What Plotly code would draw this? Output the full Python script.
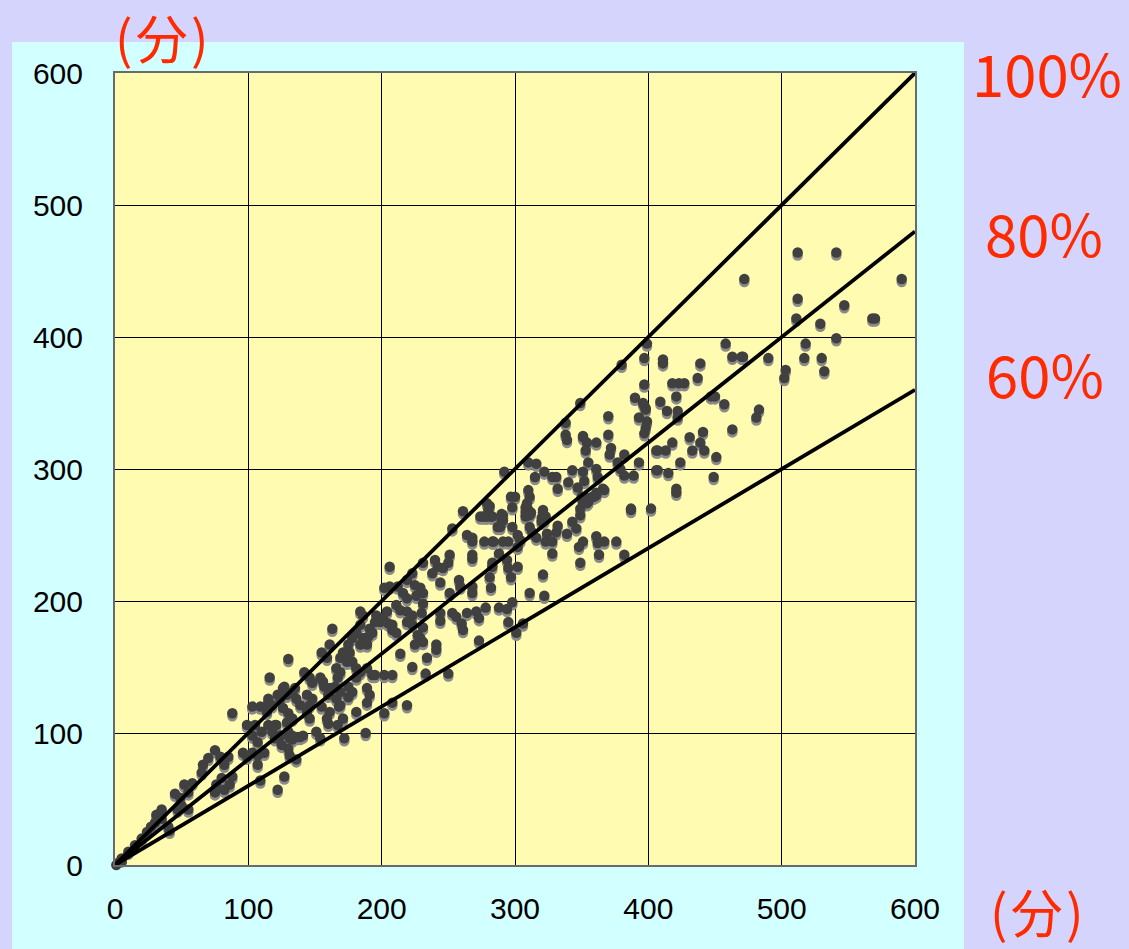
import plotly.graph_objects as go

# ---- data ----
pts = [
    (512,464),(541,464),(472,444),(590,444),(512,429),(547,424),(511,414),(529,410),(568,414),(570,414),
    (541,399),(518,395),(471,385),(490,384),(517,384),(530,384),(503,375),(502,369),(532,374),(483,345),(481,339),
    (399,395),(458,395),(463,385),(470,385),(380,379),(397,384),(411,383),(411,380),(439,380),(437,369),(418,365),
    (423,365),(427,365),(397,364),(421,355),(447,355),(450,355),(390,354),(409,351),(457,349),(397,348),(398,346),
    (414,344),(422,344),(422,339),(370,340),(393,339),(399,336),(398,331),(397,327),(441,328),(463,330),(351,325),
    (354,320),(370,326),(431,324),(361,320),(418,320),(439,320),(372,316),(371,311),(407,314),(413,314),(433,314),
    (442,314),(451,309),(382,311),(355,305),(377,305),(379,300),(393,305),(424,305),(351,298),(352,291),(361,300),
    (362,294),(382,295),(389,295),(407,299),(415,297),(449,294),(421,285),(421,282),(366,285),(361,280),(354,278),
    (387,270),(402,270),
    (349,350),(396,350),(398,345),(338,335),(338,326),(339,322),(351,324),(353,314),(406,314),(406,299),(310,305),
    (316,304),(322,298),(315,294),(328,294),(331,294),(343,299),(340,290),(292,298),(310,284),(311,279),(332,285),
    (347,286),(358,279),(367,284),(297,279),(300,279),(279,274),(280,269),(308,271),(308,267),(311,265),(321,269),
    (298,271),(261,268),(274,264),(279,264),(282,264),(291,265),(290,261),(349,270),(349,265),(355,275),(387,269),
    (289,256),(298,256),(321,267),(320,260),(322,261),(311,256),(313,252),(343,260),(346,255),(253,255),(264,250),
    (268,248),(268,245),(277,245),(283,245),(284,245),(291,245),(295,245),(302,250),(304,246),(302,241),(316,248),
    (324,251),(331,252),(323,245),(328,245),(339,251),(351,245),(348,241),(361,249),(362,244),(367,245),(376,245),
    (363,235),(382,235),(328,236),(349,229),(268,235),(268,232),(288,236),(283,229),(283,226),(294,231),(295,225),
    (302,226),(251,235),(250,229),(240,231),(242,226),(246,225),(231,229),(238,221),(244,214),(258,216),(259,211),
    (281,218),(297,218),(321,220),(268,211),(268,206),(282,210),(251,206),(311,206),(322,204),(298,199),(288,195),
    (294,194),(278,195),(271,192),(273,187),(264,191),(253,191),(256,188),(260,183),(261,178),(244,191),(244,185),
    (231,206),(231,198),(230,191),(231,180),(295,184),(306,183),(273,170),(301,176),
    (350,279),(351,274),(354,274),(359,279),(361,282),(281,272),(278,264),(283,264),(276,264),(309,274),(310,269),
    (312,267),(308,264),(320,263),(323,264),(290,266),(291,261),(287,256),(332,257),
    (206,226),(219,216),(223,221),(212,211),(225,212),(229,210),(226,204),(202,210),(206,211),(216,206),(219,202),
    (211,197),(214,193),(219,192),(223,189),(204,192),(201,187),(184,192),(186,189),(196,189),(195,184),(199,184),
    (205,183),(208,182),(208,178),(211,176),(191,179),(193,176),(190,173),(219,184),(223,182),(227,174),(229,172),
    (231,169),(225,167),(184,182),(181,176),(178,172),(186,172),(184,167),(189,167),(175,167),(171,161),(176,161),
    (169,157),(174,154),(178,154),(163,179),(161,167),(155,161),(159,157),(166,149),(169,146),(181,149),(184,146),
    (189,149),(193,144),(195,144),(202,144),(208,144),(214,160),(223,150),(234,157),(233,145),(241,167),(241,163),
    (250,145),(219,121),(208,123),(202,115),(189,134),(191,129),(189,123),(181,142),(175,135),(178,131),(175,127),
    (167,142),(165,135),(169,131),(166,126),(169,121),(154,142),(156,139),(157,135),(161,134),(160,129),(142,146),
    (146,142),(148,138),(130,156),(144,129),(148,126),(146,121),(155,120),(161,116),(159,111),(168,120),(181,116),
    (171,111),(167,106),(160,107),(172,96),(188,100),(139,97),(151,101),(154,96),(116,142),(126,134),(129,129),
    (124,126),(133,131),(136,126),(139,121),(115,126),(118,121),(114,116),(126,119),(130,115),(133,111),(129,108),
    (121,106),(118,101),(124,98),(131,96),(133,98),(144,116),(146,111),
    (88,115),(103,120),(109,120),(115,123),(122,129),(127,135),(135,134),(99,106),(105,106),(110,101),(115,106),
    (120,106),(124,98),(130,101),(103,98),(107,93),(103,85),(96,85),(99,82),(112,85),(120,96),(125,91),(130,88),
    (133,95),(137,97),(131,83),(141,98),(136,80),(107,76),(109,64),(127,67),(122,57),(75,87),(79,82),(85,82),
    (82,76),(70,81),(66,76),(65,70),(76,61),(80,66),(88,67),(86,61),(75,55),(82,57),(58,62),(52,61),(55,55),
    (45,54),(49,51),(50,45),(47,42),(55,42),(35,42),(31,38),(35,35),(30,32),(27,29),(40,29),(41,26),(24,25),
    (20,20),(15,15),(10,10),(5,5),(5,2),(107,83),(1,0),(3,2),
]
x_vals = [p[0] for p in pts]
y_vals = [p[1] for p in pts]

ratios = [1.0, 0.8, 0.6]
ratio_labels = ["100%", "80%", "60%"]
tick_vals = [0, 100, 200, 300, 400, 500, 600]
unit_label = "(\u200a分\u200a)"

# ---- layout geometry ----
W, H = 1129, 949
L, R, T, B = 115, 915, 73, 865

def px(x):
    return (x - L) / (R - L)

def py(y):
    return (B - y) / (B - T)

fig = go.Figure()

shadow_off = 3.0 / ((B - T) / 600.0)
fig.add_trace(go.Scatter(
    x=x_vals, y=[v - shadow_off for v in y_vals], mode="markers",
    marker=dict(size=10.5, color="#8a8a8a", line=dict(width=0)),
    cliponaxis=False, hoverinfo="skip", showlegend=False))
fig.add_trace(go.Scatter(
    x=x_vals, y=y_vals, mode="markers",
    marker=dict(size=10.5, color="#404040", line=dict(width=0)),
    cliponaxis=False, showlegend=False))

for r in ratios:
    fig.add_trace(go.Scatter(
        x=[0, 600], y=[0, 600 * r], mode="lines",
        line=dict(color="#000000", width=3.8),
        cliponaxis=False, showlegend=False, hoverinfo="skip"))

shapes = [
    dict(type="rect", xref="paper", yref="paper",
         x0=px(12), x1=px(964), y0=py(952), y1=py(42),
         fillcolor="#d2ffff", line=dict(width=0), layer="below"),
    dict(type="rect", xref="paper", yref="paper",
         x0=0, x1=1, y0=0, y1=1,
         fillcolor="#fffbb0", line=dict(width=0), layer="below"),
]

red = "#ff2a00"
annos = [
    dict(text=unit_label, x=px(162), y=py(36), xref="paper", yref="paper",
         xanchor="center", yanchor="middle",
         showarrow=False, font=dict(family="Noto Sans CJK JP", size=52, color=red)),
    dict(text=unit_label, x=px(1037), y=py(910), xref="paper", yref="paper",
         xanchor="center", yanchor="middle",
         showarrow=False, font=dict(family="Noto Sans CJK JP", size=52, color=red)),
]
label_pos = [(1047, 72), (1044, 232), (1045, 373)]
for lab, (lx, ly) in zip(ratio_labels, label_pos):
    annos.append(dict(text=lab, x=px(lx), y=py(ly), xref="paper", yref="paper",
                      xanchor="center", yanchor="middle", showarrow=False,
                      font=dict(family="Noto Sans CJK JP", size=58, color=red)))

axis_common = dict(
    range=[0, 600], tickvals=tick_vals, ticks="", showgrid=True,
    gridcolor="#000000", gridwidth=1, zeroline=False,
    showline=True, mirror=True, linecolor="#6a6a6a", linewidth=2,
    tickfont=dict(family="Liberation Sans", size=30, color="#000000"),
    fixedrange=True,
)

fig.update_layout(
    width=W, height=H,
    margin=dict(l=L, r=W - R, t=T, b=H - B, pad=0),
    paper_bgcolor="#d4d4fc",
    plot_bgcolor="rgba(0,0,0,0)",
    shapes=shapes,
    annotations=annos,
    xaxis=dict(**axis_common, ticklabelstandoff=16),
    yaxis=dict(**axis_common, ticklabelstandoff=24),
    showlegend=False,
)

fig.write_html("out.html", config={"displayModeBar": False},
               post_script="document.body.style.margin='0';document.body.style.overflow='hidden';")
